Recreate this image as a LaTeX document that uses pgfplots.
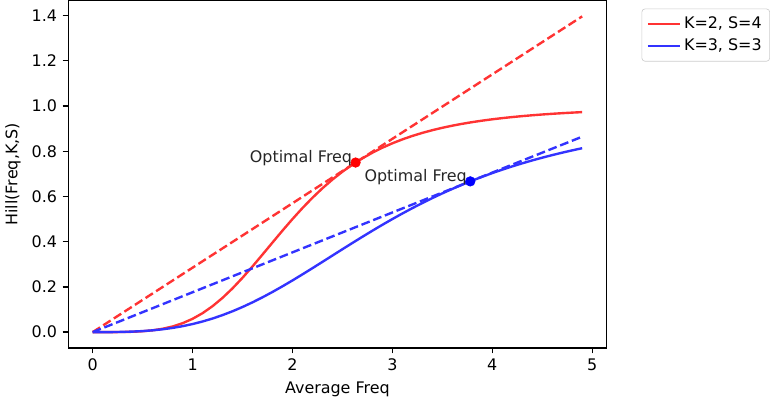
\documentclass[border=0pt]{standalone}
\usepackage{fontspec}
\setmainfont{DejaVu Sans}
\usepackage{pgfplots}
\pgfplotsset{compat=1.18}
\definecolor{hred}{RGB}{255,51,51}
\definecolor{hblue}{RGB}{51,51,255}
\definecolor{legedge}{RGB}{204,204,204}

\begin{document}
\begin{tikzpicture}
\begin{axis}[
scale only axis,
width=338pt,
height=218pt,
xmin=-0.245, xmax=5.145,
ymin=-0.0698, ymax=1.466,
xtick={0,1,2,3,4,5},
ytick={0,0.2,0.4,0.6,0.8,1.0,1.2,1.4},
yticklabel style={/pgf/number format/.cd,fixed,fixed zerofill,precision=1},
/pgf/number format/assume math mode=true,
tick align=outside,
tick pos=left,
major tick length=3.5pt,
tick style={black,line width=0.8pt},
axis line style={line width=0.8pt},
ticklabel style={font=\fontsize{10}{12}\selectfont},
xlabel={Average Freq},
ylabel={Hill(Freq,K,S)},
label style={font=\fontsize{10}{12}\selectfont},
legend style={at={(1.05,1)},xshift=5pt,yshift=-5pt,anchor=north west,
  draw=legedge,rounded corners=2pt,font=\fontsize{10}{12}\selectfont,
  row sep=1pt,inner sep=3pt},
legend cell align=left,
legend image code/.code={\draw[#1,line width=1.5pt] (0pt,0pt) -- (20pt,0pt);},
]
% K=2, S=4
\addplot[hred,line width=1.5pt] coordinates {
(0,0) (0.1,0.00000625) (0.2,0.0001) (0.3,0.000506) (0.4,0.001597) (0.5,0.003891)
(0.6,0.008035) (0.7,0.014784) (0.8,0.02496) (0.9,0.03939) (1.0,0.05882)
(1.1,0.08383) (1.2,0.11473) (1.3,0.15147) (1.4,0.19361) (1.5,0.24036)
(1.6,0.29058) (1.7,0.34297) (1.8,0.39617) (1.9,0.44888) (2.0,0.5)
(2.1,0.54864) (2.2,0.59417) (2.3,0.63623) (2.4,0.67466) (2.5,0.70942)
(2.6,0.74067) (2.7,0.76860) (2.8,0.79346) (2.9,0.81551) (3.0,0.83505)
(3.1,0.85233) (3.2,0.86761) (3.3,0.88112) (3.4,0.89307) (3.5,0.90365)
(3.6,0.91303) (3.7,0.92134) (3.8,0.92874) (3.9,0.93531) (4.0,0.94118)
(4.1,0.94641) (4.2,0.95110) (4.3,0.95529) (4.4,0.95906) (4.5,0.96245)
(4.6,0.96550) (4.7,0.96825) (4.8,0.97074) (4.9,0.97300)
};
\addlegendentry{K=2, S=4}
% K=3, S=3
\addplot[hblue,line width=1.5pt] coordinates {
(0,0) (0.1,0.000037) (0.2,0.000296) (0.3,0.000999) (0.4,0.002365) (0.5,0.004608)
(0.6,0.007937) (0.7,0.012544) (0.8,0.018610) (0.9,0.026290) (1.0,0.035714)
(1.1,0.046980) (1.2,0.060150) (1.3,0.075248) (1.4,0.092254) (1.5,0.11111)
(1.6,0.13172) (1.7,0.15395) (1.8,0.17763) (1.9,0.20258) (2.0,0.22857)
(2.1,0.25540) (2.2,0.28283) (2.3,0.31064) (2.4,0.33862) (2.5,0.36657)
(2.6,0.39430) (2.7,0.42163) (2.8,0.44844) (2.9,0.47460) (3.0,0.5)
(3.1,0.52457) (3.2,0.54825) (3.3,0.57100) (3.4,0.59279) (3.5,0.61360)
(3.6,0.63343) (3.7,0.65230) (3.8,0.67022) (3.9,0.68721) (4.0,0.70330)
(4.1,0.71852) (4.2,0.73291) (4.3,0.74650) (4.4,0.75932) (4.5,0.77143)
(4.6,0.78285) (4.7,0.79361) (4.8,0.80377) (4.9,0.81334)
};
\addlegendentry{K=3, S=3}
% tangent lines
\addplot[hred,line width=1.5pt,dash pattern=on 5.5pt off 2.4pt,forget plot] coordinates {(0,0) (4.9,1.3963)};
\addplot[hblue,line width=1.5pt,dash pattern=on 5.5pt off 2.4pt,forget plot] coordinates {(0,0) (4.9,0.8642)};
% optimal points
\addplot[only marks,mark=*,mark size=3pt,red,forget plot,
  nodes near coords={Optimal Freq},
  every node near coord/.style={anchor=base east,inner sep=0pt,xshift=-2pt,black!85,font=\fontsize{10}{12}\selectfont}]
  coordinates {(2.632,0.75)};
\addplot[only marks,mark=*,mark size=3pt,blue,forget plot,
  nodes near coords={Optimal Freq},
  every node near coord/.style={anchor=base east,inner sep=0pt,xshift=-2pt,black!85,font=\fontsize{10}{12}\selectfont}]
  coordinates {(3.780,0.6667)};
\end{axis}
\end{tikzpicture}
\end{document}
